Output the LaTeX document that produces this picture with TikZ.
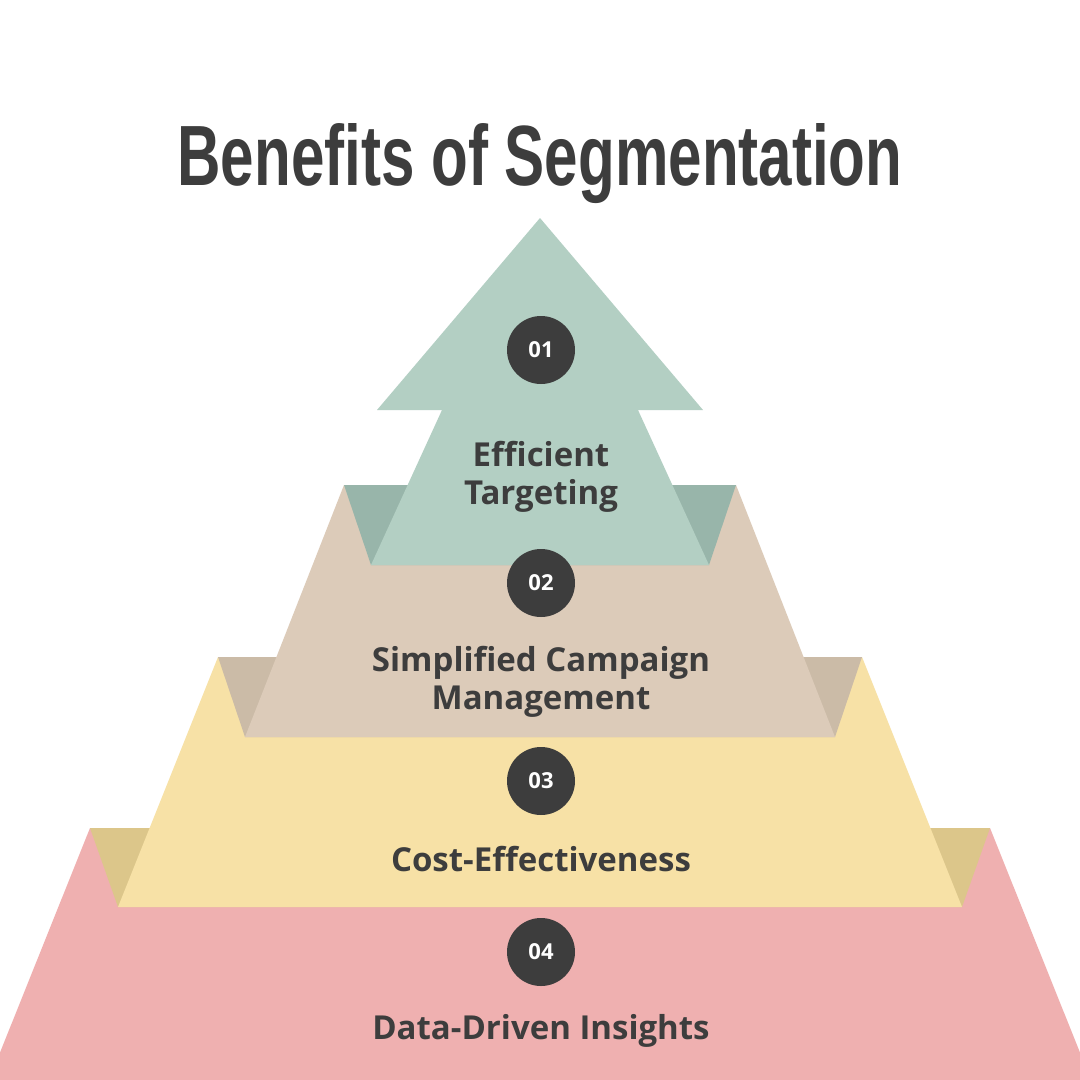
\documentclass[tikz,border=0pt]{standalone}
\usepackage{fontspec}
\usepackage{graphicx}
\setmainfont{Open Sans}
\newfontfamily\titlefont{Liberation Sans}
\definecolor{gA}{HTML}{B3CFC3}\definecolor{gD}{HTML}{98B5AA}
\definecolor{tA}{HTML}{DCCBB9}\definecolor{tD}{HTML}{CBBBA7}
\definecolor{yA}{HTML}{F7E1A6}\definecolor{yD}{HTML}{DCC68A}
\definecolor{pA}{HTML}{EFB0B0}
\definecolor{ink}{HTML}{3D3D3D}
\begin{document}
\begin{tikzpicture}[x=1pt,y=-1pt,
  num/.style={circle,fill=ink,minimum size=68pt,inner sep=0pt,text=white,font=\fontsize{22}{24}\selectfont\bfseries},
  lab/.style={text=ink,align=center,font=\fontsize{33}{38}\selectfont\bfseries}]
\useasboundingbox (0,0) rectangle (1080,1080);
\fill[white] (0,0) rectangle (1080,1080);
\begin{scope}
\clip (0,0) rectangle (1080,1080);
% tier 4
\fill[pA] (90,828) -- (990,828) -- (1091,1080) -- (-11,1080) -- cycle;
\fill[yD] (90,828) -- (118,907) -- (962,907) -- (990,828) -- cycle;
% tier 3
\fill[yA] (218,657) -- (862,657) -- (962,907) -- (118,907) -- cycle;
\fill[tD] (218,657) -- (245,737) -- (835,737) -- (862,657) -- cycle;
% tier 2
\fill[tA] (344,485) -- (736,485) -- (835,737) -- (245,737) -- cycle;
\fill[gD] (344,485) -- (371,565) -- (709,565) -- (736,485) -- cycle;
% tier 1 arrow
\fill[gA] (540,218) -- (703,410) -- (638,410) -- (709,565) -- (371,565) -- (442,410) -- (377,410) -- cycle;
\end{scope}
\node[text=ink,anchor=base] (title) at (540,185) {\resizebox{725pt}{62pt}{\titlefont\bfseries Benefits of Segmentation}};
\node[num] (n1) at (541,350) {01};
\node[num] (n2) at (541,583) {02};
\node[num] (n3) at (541,781) {03};
\node[num] (n4) at (541,952) {04};
\node[lab] (l1) at (541,477) {Efficient\\Targeting};
\node[lab] (l2) at (541,682) {Simplified Campaign\\Management};
\node[lab] (l3) at (541,859) {Cost-Effectiveness};
\node[lab] (l4) at (541,1031) {Data-Driven Insights};
\end{tikzpicture}
\end{document}
